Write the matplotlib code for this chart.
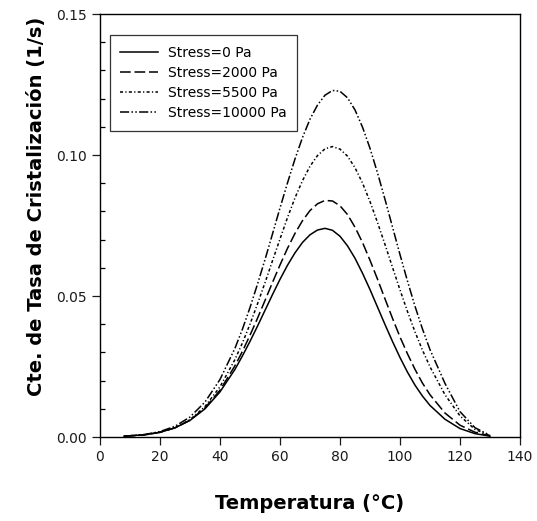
import matplotlib
matplotlib.use("Agg")
import matplotlib.pyplot as plt
from matplotlib.ticker import MultipleLocator

# temperature grid (deg C)
temp = [8, 15, 20, 25, 30, 35, 40, 45, 47.5, 50, 52.5, 55, 57.5, 60, 62.5, 65,
        67.5, 70, 72.5, 75, 77.5, 80, 82.5, 85, 87.5, 90, 92.5, 95, 97.5, 100,
        102.5, 105, 107.5, 110, 115, 120, 125, 130]

k_0 = [0.00027, 0.00082, 0.00169, 0.00325, 0.00589, 0.0100, 0.0160, 0.0240,
       0.0288, 0.0339, 0.0393, 0.0449, 0.0505, 0.0559, 0.0609, 0.0653, 0.0690,
       0.0717, 0.0734, 0.0740, 0.0733, 0.0712, 0.0678, 0.0634, 0.0581, 0.0523,
       0.0461, 0.0399, 0.0339, 0.0282, 0.0230, 0.0184, 0.0145, 0.0112, 0.0063,
       0.0030, 0.0012, 0.0003]

k_2000 = [0.00026, 0.00080, 0.00167, 0.00325, 0.00596, 0.0103, 0.0166, 0.0253,
          0.0304, 0.0361, 0.0421, 0.0484, 0.0548, 0.0610, 0.0669, 0.0722, 0.0767,
          0.0803, 0.0827, 0.0839, 0.0837, 0.0820, 0.0789, 0.0744, 0.0690, 0.0627,
          0.0560, 0.0490, 0.0421, 0.0355, 0.0295, 0.0240, 0.0191, 0.0150, 0.0085,
          0.0042, 0.0017, 0.0004]

k_5500 = [0.00025, 0.00078, 0.00165, 0.00329, 0.00614, 0.0108, 0.0178, 0.0275,
          0.0334, 0.0400, 0.0472, 0.0547, 0.0625, 0.0702, 0.0778, 0.0848, 0.0909,
          0.0960, 0.0998, 0.1022, 0.1030, 0.1021, 0.0996, 0.0955, 0.0901, 0.0835,
          0.0761, 0.0683, 0.0602, 0.0522, 0.0445, 0.0373, 0.0308, 0.0249, 0.0150,
          0.0075, 0.0027, 0.0005]

k_10000 = [0.0003, 0.00092, 0.00193, 0.00381, 0.00708, 0.0124, 0.0204, 0.0315,
           0.0383, 0.0459, 0.0542, 0.0629, 0.0720, 0.0812, 0.0901, 0.0986, 0.1062,
           0.1127, 0.1177, 0.1212, 0.1229, 0.1226, 0.1203, 0.1160, 0.1099, 0.1024,
           0.0937, 0.0843, 0.0745, 0.0647, 0.0553, 0.0464, 0.0383, 0.0310, 0.0190,
           0.0090, 0.0033, 0.0006]

labels = ["Stress=0 Pa", "Stress=2000 Pa", "Stress=5500 Pa", "Stress=10000 Pa"]

styles = ["-", (0, (7, 2.5)), (0, (2, 1.5, 0.8, 1.5)), (0, (6, 1.5, 1, 1.5, 1, 1.5))]

plt.rcParams.update({
    "font.family": ["DejaVu Sans"],
    "font.size": 9,
})

fig = plt.figure(figsize=(5.37, 5.21), dpi=100)
ax = fig.add_axes([0.1862, 0.1612, 0.7821, 0.8119])

for series, lab, ls in zip([k_0, k_2000, k_5500, k_10000], labels, styles):
    ax.plot(temp, series, color="black", linestyle=ls, linewidth=1.1, label=lab)

ax.set_xlim(0, 140)
ax.set_ylim(0, 0.15)
ax.xaxis.set_major_locator(MultipleLocator(20))
ax.yaxis.set_major_locator(MultipleLocator(0.05))
ax.yaxis.set_minor_locator(MultipleLocator(0.01))
ax.yaxis.set_major_formatter(plt.FormatStrFormatter("%.2f"))
ax.tick_params(which="major", direction="out", length=5.5, width=0.9,
               labelsize=10, pad=4, colors="#1a1a1a")
ax.tick_params(axis="y", which="minor", direction="in", length=3.6, width=0.9)
for sp in ax.spines.values():
    sp.set_linewidth(1.0)

label_font = dict(family="DejaVu Sans", weight="bold", size=14)
ax.set_xlabel("Temperatura (°C)", va="center", **label_font)
ax.set_ylabel("Cte. de Tasa de Cristalización (1/s)", va="center", **label_font)
ax.xaxis.set_label_coords(0.5, -0.156)
ax.yaxis.set_label_coords(-0.15, 0.546)

leg = ax.legend(loc="upper left", bbox_to_anchor=(0.024, 0.95), fontsize=10,
                frameon=True, fancybox=False, edgecolor="black",
                handlelength=2.7, handletextpad=0.7, labelspacing=0.45,
                borderpad=0.75, borderaxespad=0.0)
leg.get_frame().set_linewidth(0.9)

fig.savefig("out.png", dpi=100)
